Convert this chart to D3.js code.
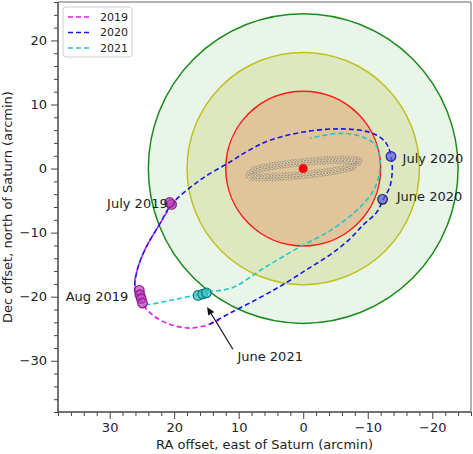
<!DOCTYPE html>
<html>
  <head>
    <meta charset="utf-8">
    <script src="https://cdn.jsdelivr.net/npm/d3@7"></script>
    <style>
      body { margin: 0; background: #fff; }
      text { font-family: 'DejaVu Sans', sans-serif; fill: #222; }
    </style>
  </head>
  <body>
    <svg width="473" height="454"></svg>
    <script>
      // years and their line colours
      const years = ['2019', '2020', '2021'];
      const yearColors = ['#e01ee0', '#1515e6', '#1ec8c8'];

      // offsets [RA, Dec] in arcmin
      const track2019 = [[20.4,-5.6],[22.2,-8.6],[24.3,-12.2],[25.6,-15.4],[26.1,-17.9],[25.7,-19.6],
        [25.0,-21.0],[23.3,-22.9],[20.7,-24.3],[17.6,-24.9],[14.5,-24.3],[13.0,-23.6]];
      const track2020 = [[14.5,-24.3],[11.4,-22.6],[7.0,-20.3],[3.1,-18.1],[-0.5,-15.8],[-4.1,-13.5],
        [-7.0,-11.2],[-9.3,-8.8],[-11.4,-6.8],[-12.4,-4.8],[-13.4,-2.9],[-13.8,-0.3],[-13.6,1.9],
        [-12.9,3.9],[-11.4,5.2],[-9.3,5.9],[-5.2,6.2],[0,5.7],[5.2,4.4],[8.5,2.8],[11.4,1.0],
        [16.0,-1.8],[20.4,-5.6],[22.2,-8.6],[24.3,-12.2],[25.6,-15.4],[26.1,-17.9],[26.1,-19.3]];
      const track2021 = [[26.1,-19.5],[25.3,-20.8],[24.5,-21.2],[20.7,-20.6],[17.0,-19.8],[15.0,-19.3],
        [11.0,-18.6],[6.2,-15.6],[1.0,-12.5],[-4.3,-9.6],[-8.3,-6.5],[-10.9,-3.4],[-11.9,0.2],
        [-11.4,3.4],[-9.3,4.9],[-5.7,5.5],[-1.0,4.7]];
      const tracks = [track2019, track2020, track2021];

      // zone radii (arcmin), centred on Saturn
      const zoneRadii = [24, 18, 12];
      const zoneFill = ['#e9f5e9', '#dde8c0', '#dfc599'];
      const zoneStroke = ['#1a8a1a', '#c0c020', '#ff1a1a'];

      // moon loops around Saturn
      const bandUpper = [[8,-0.34],[7.5,-0.2],[7,-0.07],[6.5,0.04],[6,0.15],[5.5,0.24],[5,0.33],[4.5,0.42],
        [4,0.5],[3.5,0.57],[3,0.64],[2.5,0.71],[2,0.78],[1.5,0.84],[1,0.89],[0.5,0.95],[0,1.0],[-0.5,1.05],
        [-1,1.09],[-1.5,1.14],[-2,1.18],[-2.5,1.21],[-3,1.24],[-3.5,1.27],[-4,1.3],[-4.5,1.32],[-5,1.33],
        [-5.5,1.34],[-6,1.35],[-6.5,1.34],[-7,1.33],[-7.5,1.3],[-8,1.26],[-8.4,1.2],[-8.8,1.0]];
      const bandLower = [[8.6,-0.9],[8,-1.26],[7.5,-1.3],[7,-1.33],[6.5,-1.34],[6,-1.35],[5.5,-1.34],
        [5,-1.33],[4.5,-1.32],[4,-1.3],[3.5,-1.27],[3,-1.24],[2.5,-1.21],[2,-1.18],[1.5,-1.14],[1,-1.09],
        [0.5,-1.05],[0,-1.0],[-0.5,-0.95],[-1,-0.89],[-1.5,-0.84],[-2,-0.78],[-2.5,-0.71],[-3,-0.64],
        [-3.5,-0.57],[-4,-0.5],[-4.5,-0.42],[-5,-0.33],[-5.5,-0.24],[-6,-0.15],[-6.5,-0.04],[-7,0.07],
        [-7.5,0.2],[-8,0.34]];

      // dated positions
      const markers = [
        { year: 0, pts: [[20.4,-5.6],[20.7,-5.3]] },
        { year: 0, pts: [[25.4,-19.0],[25.3,-19.7],[25.1,-20.3],[24.9,-21.0]] },
        { year: 1, pts: [[-13.6,1.9]] },
        { year: 1, pts: [[-12.3,-4.8]], dark: true },
        { year: 2, pts: [[16.3,-19.8],[15.6,-19.6],[15.0,-19.4]] }
      ];
      const labels = [
        { text: 'July 2019', x: 21.0, y: -5.4, anchor: 'end' },
        { text: 'Aug 2019', x: 27.1, y: -19.9, anchor: 'end' },
        { text: 'July 2020', x: -15.4, y: 1.6, anchor: 'start' },
        { text: 'June 2020', x: -14.5, y: -4.3, anchor: 'start' },
        { text: 'June 2021', x: 10.2, y: -29.3, anchor: 'start' }
      ];
      const arrowFrom = [10.9, -28.2];
      const arrowTo = [14.9, -21.6];

      const xTicks = [30, 20, 10, 0, -10, -20];
      const yTicks = [-30, -20, -10, 0, 10, 20];

      const margin = { left: 58, right: 2, top: 2, bottom: 42 };
      const svg = d3.select('svg');
      const width = +svg.attr('width');
      const height = +svg.attr('height');
      const innerWidth = width - margin.left - margin.right;
      const innerHeight = height - margin.top - margin.bottom;

      const g = svg.append('g')
        .attr('transform', `translate(${margin.left},${margin.top})`);

      const xScale = d3.scaleLinear().domain([38, -26]).range([0, innerWidth]);
      const yScale = d3.scaleLinear().domain([-38, 26]).range([innerHeight, 0]);
      const px = d => xScale(d[0]);
      const py = d => yScale(d[1]);
      const rPx = r => Math.abs(xScale(r) - xScale(0));

      g.append('defs').append('clipPath').attr('id', 'clip')
        .append('rect').attr('width', innerWidth).attr('height', innerHeight);
      const plot = g.append('g').attr('clip-path', 'url(#clip)');

      // zones
      zoneRadii.forEach((r, i) => {
        plot.append('circle')
          .attr('cx', xScale(0)).attr('cy', yScale(0))
          .attr('r', rPx(r))
          .attr('fill', zoneFill[i])
          .attr('stroke', zoneStroke[i])
          .attr('stroke-width', 1.5);
      });

      // grey loop band
      bandUpper.concat(bandLower).forEach(d => {
        plot.append('ellipse')
          .attr('cx', px(d)).attr('cy', py(d))
          .attr('rx', 1.1).attr('ry', 4.2)
          .attr('transform', `rotate(20,${px(d)},${py(d)})`)
          .attr('fill', 'none')
          .attr('stroke', '#858585')
          .attr('stroke-width', 1.1)
          .attr('stroke-dasharray', '1,1.2');
      });

      plot.append('circle')
        .attr('cx', xScale(0)).attr('cy', yScale(0))
        .attr('r', 4.5).attr('fill', '#ff0000');

      const line = d3.line().x(px).y(py).curve(d3.curveCatmullRom);

      // 2019 first so the 2020 dashes sit on top of it where they overlap
      [0, 1, 2].forEach(i => {
        plot.append('path')
          .attr('d', line(tracks[i]))
          .attr('fill', 'none')
          .attr('stroke', yearColors[i])
          .attr('stroke-width', 1.6)
          .attr('stroke-dasharray', '5,3');
      });

      const markFill = ['#c040c0', '#5a5ae6', '#30c8c8'];
      const markEdge = ['#8a1a8a', '#2a2ab0', '#107878'];
      markers.forEach(m => {
        m.pts.forEach(d => {
          plot.append('circle')
            .attr('cx', px(d)).attr('cy', py(d))
            .attr('r', 4.8)
            .attr('fill', markFill[m.year])
            .attr('fill-opacity', 0.7)
            .attr('stroke', m.dark ? '#202040' : markEdge[m.year])
            .attr('stroke-width', 1.2);
        });
      });

      labels.forEach(l => {
        g.append('text')
          .attr('x', xScale(l.x)).attr('y', yScale(l.y))
          .attr('dy', '0.35em')
          .attr('text-anchor', l.anchor)
          .attr('font-size', 13)
          .text(l.text);
      });

      // arrow
      const ax1 = px(arrowFrom), ay1 = py(arrowFrom), ax2 = px(arrowTo), ay2 = py(arrowTo);
      const ang = Math.atan2(ay2 - ay1, ax2 - ax1);
      const head = 8, hw = 3.5;
      const bx = ax2 - head * Math.cos(ang), by = ay2 - head * Math.sin(ang);
      g.append('line')
        .attr('x1', ax1).attr('y1', ay1).attr('x2', bx).attr('y2', by)
        .attr('stroke', '#111').attr('stroke-width', 1.2);
      g.append('path')
        .attr('d', `M${ax2},${ay2}L${bx + hw * Math.sin(ang)},${by - hw * Math.cos(ang)}L${bx - hw * Math.sin(ang)},${by + hw * Math.cos(ang)}Z`)
        .attr('fill', '#111');

      // axes
      const xAxis = d3.axisBottom(xScale).tickValues(xTicks)
        .tickFormat(d => d < 0 ? '\u2212' + (-d) : d).tickSize(7).tickPadding(4);
      const yAxis = d3.axisLeft(yScale).tickValues(yTicks)
        .tickFormat(d => d < 0 ? '\u2212' + (-d) : d).tickSize(7).tickPadding(4);
      const xMinor = d3.axisBottom(xScale).tickValues(d3.range(-26, 39, 2).filter(v => v % 10 !== 0))
        .tickFormat('').tickSize(4);
      const yMinor = d3.axisLeft(yScale).tickValues(d3.range(-38, 27, 2).filter(v => v % 10 !== 0))
        .tickFormat('').tickSize(4);

      g.append('g').attr('transform', `translate(0,${innerHeight})`).call(xAxis);
      g.append('g').attr('transform', `translate(0,${innerHeight})`).call(xMinor);
      g.append('g').call(yAxis);
      g.append('g').call(yMinor);
      g.selectAll('.domain').remove();
      g.selectAll('.tick line').attr('stroke', '#444');
      g.selectAll('.tick text').attr('font-size', 13).attr('fill', '#222')
        .attr('font-family', 'DejaVu Sans, sans-serif');

      // frame
      g.append('line').attr('x1', 0).attr('x2', innerWidth).attr('y1', 0).attr('y2', 0)
        .attr('stroke', '#999').attr('stroke-width', 1.5);
      g.append('line').attr('x1', innerWidth).attr('x2', innerWidth).attr('y1', 0).attr('y2', innerHeight)
        .attr('stroke', '#999').attr('stroke-width', 1.5);
      g.append('line').attr('x1', 0).attr('x2', 0).attr('y1', 0).attr('y2', innerHeight)
        .attr('stroke', '#444').attr('stroke-width', 1.5);
      g.append('line').attr('x1', 0).attr('x2', innerWidth).attr('y1', innerHeight).attr('y2', innerHeight)
        .attr('stroke', '#444').attr('stroke-width', 1.5);

      g.append('text')
        .attr('x', innerWidth / 2).attr('y', innerHeight + 37)
        .attr('text-anchor', 'middle').attr('font-size', 13)
        .text('RA offset, east of Saturn (arcmin)');
      g.append('text')
        .attr('transform', `translate(${-46},${innerHeight / 2}) rotate(-90)`)
        .attr('text-anchor', 'middle').attr('font-size', 13)
        .text('Dec offset, north of Saturn (arcmin)');

      // legend
      const legend = g.append('g').attr('transform', 'translate(5,5)');
      legend.append('rect')
        .attr('width', 69).attr('height', 50).attr('rx', 3)
        .attr('fill', '#fff').attr('fill-opacity', 0.85)
        .attr('stroke', '#d0d0d0');
      years.forEach((y, i) => {
        const ly = 10 + i * 15.5;
        legend.append('line')
          .attr('x1', 5).attr('x2', 27).attr('y1', ly).attr('y2', ly)
          .attr('stroke', yearColors[i]).attr('stroke-width', 1.6)
          .attr('stroke-dasharray', '5,3');
        legend.append('text')
          .attr('x', 37).attr('y', ly).attr('dy', '0.35em')
          .attr('font-size', 11).text(y);
      });
    </script>
  </body>
</html>
